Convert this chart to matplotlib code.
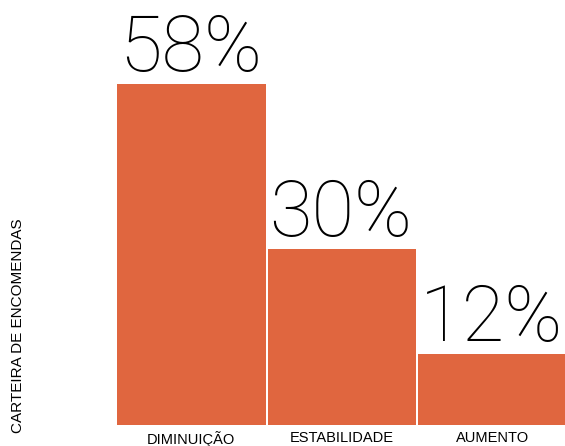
"""
Carteira de encomendas: distribuição por tendência
"""

import matplotlib.pyplot as plt

categories = ['DIMINUIÇÃO', 'ESTABILIDADE', 'AUMENTO']
values = [58, 30, 12]
ylabel = 'CARTEIRA DE ENCOMENDAS'


def main():
    plt.rcParams['font.family'] = ['Liberation Sans', 'DejaVu Sans']

    fig = plt.figure(figsize=(5.65, 4.46), dpi=100)
    # axes placed in pixels: left edge 117, bottom 425 (from top)
    ax = fig.add_axes([117 / 565, 21 / 446, 451.5 / 565, 425 / 446])

    bar_color = '#E0663F'
    x = list(range(len(values)))
    ax.bar(x, values, width=0.987, align='edge', color=bar_color, linewidth=0)

    ax.set_xlim(0, 3)
    ax.set_ylim(0, 58 * 425 / 341)

    for xi, v in zip(x, values):
        ax.annotate(f'{v}%', xy=(xi, v), xytext=(1.5, 9.4),
                    textcoords='offset points', ha='left', va='baseline',
                    fontsize=56, family=['Roboto', 'DejaVu Sans'],
                    fontweight='light', color='black')

    ax.set_xticks([xi + 0.4935 for xi in x])
    ax.set_xticklabels(categories, fontsize=10.5)
    ax.tick_params(axis='x', length=0, pad=4.5)
    ax.set_yticks([])
    for s in ax.spines.values():
        s.set_visible(False)

    fig.text(18.5 / 565, 13 / 446, ylabel, rotation=90, ha='center',
             va='bottom', fontsize=11)

    plt.savefig('out.png', dpi=100)
    plt.close()


if __name__ == '__main__':
    main()
